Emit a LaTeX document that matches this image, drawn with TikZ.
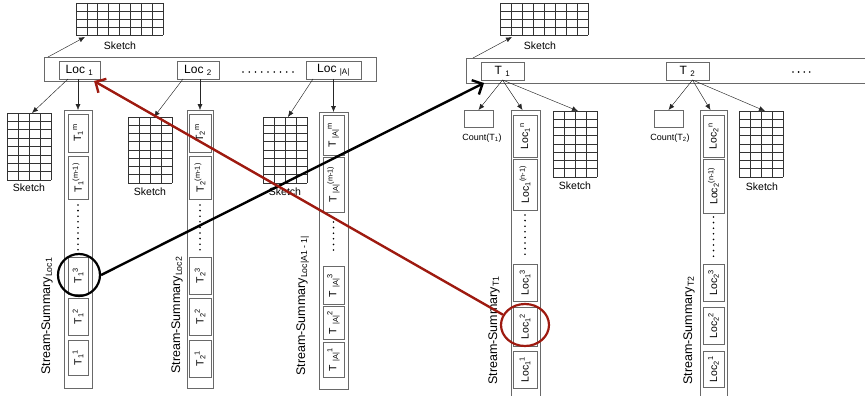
\documentclass[tikz,border=0pt]{standalone}
\usepackage{fontspec}
\setmainfont{Liberation Sans}
\usetikzlibrary{arrows.meta,calc,shapes.geometric}
\definecolor{boxgray}{RGB}{105,105,105}
\definecolor{linkred}{RGB}{158,26,16}
\tikzset{
	box/.style={draw=boxgray,line width=0.6pt,inner sep=0pt,outer sep=0pt},
	cell/.style={box,rotate=90,font=\fontsize{10.5}{12}\selectfont},
	barlabel/.style={box,minimum height=18pt,font=\fontsize{12}{14}\selectfont},
	sketch/.style={inner sep=0pt,outer sep=0pt},
	gridline/.style={line width=0.6pt,black!80},
	skname/.style={font=\fontsize{10.5}{12}\selectfont},
	cntname/.style={font=\fontsize{9}{10}\selectfont},
	sumname/.style={rotate=90,anchor=base west,inner sep=0pt,font=\fontsize{12.5}{14}\selectfont},
	feed/.style={-{Latex[length=6pt,width=5pt]},line width=0.45pt,black!85},
	link/.style={-{Straight Barb[length=8pt,angle'=90]},line width=2.4pt},
	dotline/.style={line width=1.8pt,line cap=round,dash pattern=on 0pt off #1},
	dotline/.default=5.6pt
}
\begin{document}
\begin{tikzpicture}[x=1pt,y=-1pt]
	\useasboundingbox (0,0) rectangle (865,396);
	% location side
	\node[box,minimum width=332pt,minimum height=24pt] (barL) at (210,69) {};
	\node[barlabel,minimum width=41pt] (loc1) at (79.5,70) {Loc \textsubscript{1}};
	\node[barlabel,minimum width=42pt] (loc2) at (198,70) {Loc \textsubscript{2}};
	\node[barlabel,minimum width=55pt] (locA) at (333.5,70) {Loc \textsubscript{|A|}};
	\draw[dotline=6.25pt] (243,72) -- (293.5,72);
	\node[sketch,minimum width=87pt,minimum height=32pt] (skTopL) at (119.5,19) {};
	\node[sketch,minimum width=44pt,minimum height=67pt] (skL1) at (29,146.5) {};
	\node[sketch,minimum width=44pt,minimum height=66pt] (skL2) at (150,150) {};
	\node[sketch,minimum width=44pt,minimum height=66pt] (skL3) at (285,150) {};
	\node[skname] (skTopLname) at (120,46) {Sketch};
	\node[skname] (skL1name) at (29,188) {Sketch};
	\node[skname] (skL2name) at (150,192) {Sketch};
	\node[skname] (skL3name) at (285,192) {Sketch};
	\node[box,minimum width=28pt,minimum height=278pt] (colL1) at (78,249) {};
	\node[box,minimum width=26pt,minimum height=278pt] (colL2) at (200,249) {};
	\node[box,minimum width=29pt,minimum height=277pt] (colL3) at (333.5,250.5) {};
	\foreach \y/\h/\s [count=\k] in {133/38/m,177.5/43/(m-1),275.5/37/3,316.5/37/2,357.5/35/1}
		\node[cell,minimum width=\h pt,minimum height=20pt] (L1-\k) at (78,\y) {T\textsubscript{1}\textsuperscript{\s}};
	\foreach \y/\h/\s [count=\k] in {133/38/m,177.5/43/(m-1),275.5/37/3,316.5/37/2,358.5/37/1}
		\node[cell,minimum width=\h pt,minimum height=22pt] (L2-\k) at (200,\y) {T\textsubscript{2}\textsuperscript{\s}};
	\foreach \y/\h/\s [count=\k] in {135/40/m,184.5/55/(m-1),285.5/38/3,322.5/33/2,359.5/35/1}
		\node[cell,minimum width=\h pt,minimum height=21pt] (LA-\k) at (333.5,\y) {T \textsubscript{|A|}\textsuperscript{\s}};
	\draw[dotline,shorten <=6pt,shorten >=5pt] (L1-2.west) -- (L1-3.east);
	\draw[dotline,shorten <=6pt,shorten >=5pt] (L2-2.west) -- (L2-3.east);
	\draw[dotline,shorten <=10pt,shorten >=15pt] (LA-2.west) -- (LA-3.east);
	\node[sumname] (sumL1) at (50,375) {Stream-Summary\textsubscript{Loc1}};
	\node[sumname] (sumL2) at (180,374) {Stream-Summary\textsubscript{Loc2}};
	\node[sumname] (sumL3) at (305,376) {Stream-Summary\textsubscript{Loc|A1 - 1|}};
	% time side
	\node[box,minimum width=420pt,minimum height=25pt] (barR) at (676,70.5) {};
	\node[barlabel,minimum width=43pt] (T1) at (502.5,71) {T \textsubscript{1}};
	\node[barlabel,minimum width=43pt] (T2) at (687.5,71) {T \textsubscript{2}};
	\draw[dotline] (793,72) -- (811,72);
	\node[sketch,minimum width=88pt,minimum height=32pt] (skTopR) at (544,19) {};
	\node[sketch,minimum width=44pt,minimum height=66pt] (skR1) at (575,144) {};
	\node[sketch,minimum width=44pt,minimum height=66pt] (skR2) at (761,144) {};
	\node[skname] (skTopRname) at (540,46) {Sketch};
	\node[skname] (skR1name) at (575,186) {Sketch};
	\node[skname] (skR2name) at (762,187) {Sketch};
	\node[box,minimum width=29pt,minimum height=17pt] (cnt1) at (478.5,118.5) {};
	\node[box,minimum width=29pt,minimum height=17pt] (cnt2) at (668.5,118.5) {};
	\node[cntname] (cnt1name) at (482,138) {Count(T\textsubscript{1})};
	\node[cntname] (cnt2name) at (670,138) {Count(T\textsubscript{2})};
	\node[box,minimum width=29pt,minimum height=300pt] (colR1) at (525.5,260) {};
	\node[box,minimum width=27pt,minimum height=300pt] (colR2) at (713.5,260) {};
	\foreach \y/\h/\s [count=\k] in {136/42/n,184.5/51/(n-1),282.5/37/3,326.5/39/2,369.5/37/1}
		\node[cell,minimum width=\h pt,minimum height=24pt] (R1-\k) at (525,\y) {Loc\textsubscript{1}\textsuperscript{\s}};
	\foreach \y/\h/\s [count=\k] in {136/42/n,186/54/(n-1),282.5/37/3,325.5/37/2,369/36/1}
		\node[cell,minimum width=\h pt,minimum height=21pt] (R2-\k) at (713.5,\y) {Loc\textsubscript{2}\textsuperscript{\s}};
	\draw[dotline,shorten <=5pt,shorten >=5pt] (R1-2.west) -- (R1-3.east);
	\draw[dotline,shorten <=4pt,shorten >=5pt] (R2-2.west) -- (R2-3.east);
	\node[sumname] (sumR1) at (497,385) {Stream-Summary\textsubscript{T1}};
	\node[sumname] (sumR2) at (692,385) {Stream-Summary\textsubscript{T2}};
	% sketch grids
	\foreach \n/\c/\r in {skTopL/8/4,skL1/4/8,skL2/4/8,skL3/4/8,skTopR/8/4,skR1/4/8,skR2/4/8}{
		\foreach \i in {0,...,\c}
			\draw[gridline] ($(\n.north west)!\i/\c!(\n.north east)$) -- ($(\n.south west)!\i/\c!(\n.south east)$);
		\foreach \j in {0,...,\r}
			\draw[gridline] ($(\n.north west)!\j/\r!(\n.south west)$) -- ($(\n.north east)!\j/\r!(\n.south east)$);
	}
	% thin arrows
	\draw[feed] ($(barL.north west)+(4,0)$) -- ($(skTopL.south west)+(9,2)$);
	\draw[feed] ($(loc1.south west)+(9,0)$) -- ($(skL1.north west)+(25,0)$);
	\draw[feed] (loc1.south -| colL1.north) -- (colL1.north);
	\draw[feed] ($(loc2.south west)+(6,0)$) -- ($(skL2.north west)+(26,0)$);
	\draw[feed] (loc2.south -| colL2.north) -- (colL2.north);
	\draw[feed] ($(locA.south west)+(7,0)$) -- ($(skL3.north west)+(25,0)$);
	\draw[feed] (locA.south -| colL3.north) -- (colL3.north);
	\draw[feed] ($(barR.north west)+(7,0)$) -- ($(skTopR.south west)+(12,2)$);
	\draw[feed] (T1.south) -- (cnt1.north);
	\draw[feed] (T1.south) -- ($(colR1.north)+(-3,0)$);
	\draw[feed] (T1.south) -- ($(skR1.north)+(3,0)$);
	\draw[feed] ($(T2.south)+(5,0)$) -- (cnt2.north);
	\draw[feed] ($(T2.south)+(5,0)$) -- ($(colR2.north)+(-3,0)$);
	\draw[feed] ($(T2.south)+(5,0)$) -- ($(skR2.north)+(4,0)$);
	% highlighted links
	\node[draw,circle,line width=2.2pt,minimum size=42pt,inner sep=0pt] (pickT) at (79,275) {};
	\node[draw=linkred,ellipse,line width=2.2pt,minimum width=48pt,minimum height=42pt,inner sep=0pt] (pickLoc) at (525,325) {};
	\draw[link] (pickT.east) -- ($(T1.south west)+(3,3)$);
	\draw[link,linkred] (pickLoc.155) -- ($(loc1.south east)+(-6,2)$);
\end{tikzpicture}
\end{document}
